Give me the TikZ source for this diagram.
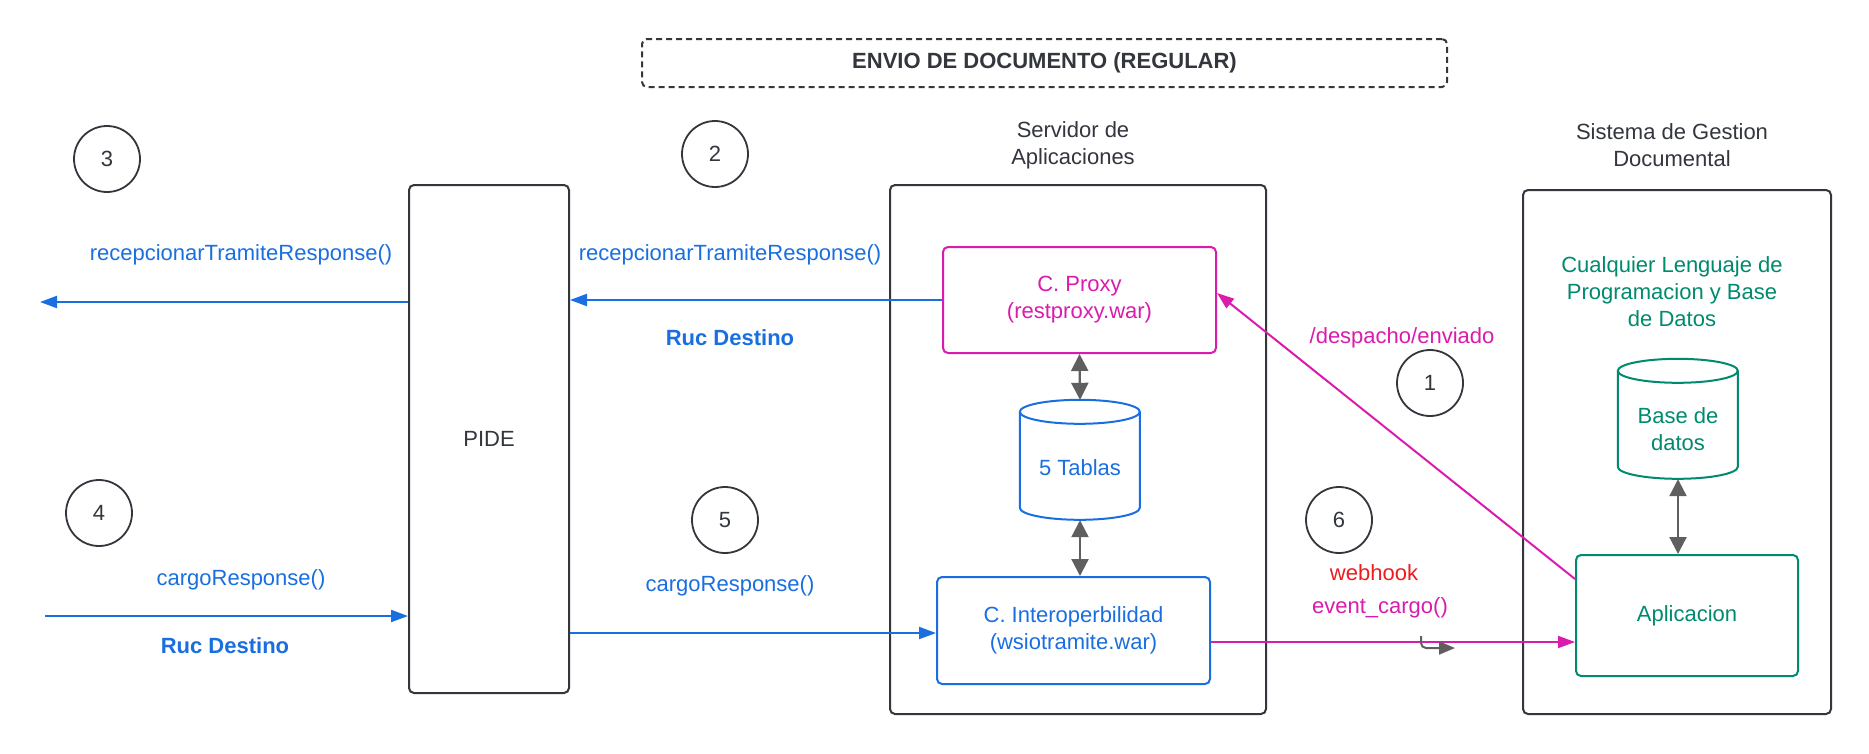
\documentclass[tikz,border=0pt]{standalone}
\usepackage{fontspec}
\setmainfont{Liberation Sans}
\usetikzlibrary{arrows.meta}
\definecolor{cblue}{HTML}{1A6FE0}
\definecolor{cmag}{HTML}{DA1CAC}
\definecolor{cgreen}{HTML}{008A6E}
\definecolor{cred}{HTML}{EE1C1C}
\definecolor{cdark}{HTML}{33363D}
\definecolor{cgray}{HTML}{5F5F5F}
\begin{document}
\begin{tikzpicture}[x=1pt,y=-1pt,font=\fontsize{22}{27}\selectfont,
  box/.style={draw=cdark,line width=2pt,rounded corners=5pt,inner sep=0pt,align=center},
  numc/.style={draw=cdark,circle,line width=1.8pt,minimum size=66pt,inner sep=0pt,text=cdark},
  lbl/.style={align=center,inner sep=0pt},
  barrow/.style={draw=cblue,line width=2pt,-{Triangle[length=17pt,width=12pt]}},
  marrow/.style={draw=cmag,line width=2pt,-{Triangle[length=17pt,width=12pt]}},
  garrow/.style={draw=cgray,line width=2.2pt,{Triangle[length=17pt,width=17pt]}-{Triangle[length=17pt,width=17pt]}},
  cyl/.style={inner sep=0pt,minimum width=120pt,minimum height=120pt}]
\fill[white] (0,0) rectangle (1869,753);
\useasboundingbox (0,0) rectangle (1869,753);

% title
\node[box,dashed,dash pattern=on 6pt off 4pt,minimum width=805pt,minimum height=48pt,font=\fontsize{22}{27}\selectfont\bfseries,text=cdark] (title) at (1044.5,63) {ENVIO DE DOCUMENTO (REGULAR)};

% containers
\node[box,minimum width=160pt,minimum height=508pt,text=cdark] (pide) at (489,439) {PIDE};
\node[box,minimum width=376pt,minimum height=529pt] (serv) at (1078,449.5) {};
\node[box,minimum width=308pt,minimum height=524pt] (sgd) at (1677,452) {};
\node[lbl,text=cdark] (servlbl) at (1073,145) {Servidor de\\Aplicaciones};
\node[lbl,text=cdark] (sgdlbl) at (1672,145) {Sistema de Gestion\\Documental};

% inner boxes
\node[box,draw=cmag,text=cmag,minimum width=273pt,minimum height=106pt] (proxy) at (1079.5,300) {C. Proxy\\(restproxy.war)};
\node[box,draw=cblue,text=cblue,minimum width=273pt,minimum height=107pt] (interop) at (1073.5,630.5) {C. Interoperbilidad\\(wsiotramite.war)};
\node[box,draw=cgreen,text=cgreen,minimum width=222pt,minimum height=121pt] (aplic) at (1687,615.5) {Aplicacion};
\node[lbl,text=cgreen] (cual) at (1672,292) {Cualquier Lenguaje de\\Programacion y Base\\de Datos};

% cylinders
\node[cyl,label={[lbl,text=cblue,yshift=-8pt]center:5 Tablas}] (tablas) at (1080,460) {};
\draw[cblue,line width=2pt] (tablas.north west) ++(0,12) coordinate (ttl) -- ++(0,96)
  arc[start angle=180,end angle=360,x radius=60pt,y radius=12pt] -- ++(0,-96)
  arc[start angle=0,end angle=180,x radius=60pt,y radius=12pt] -- cycle;
\draw[cblue,line width=2pt] (ttl) arc[start angle=180,end angle=360,x radius=60pt,y radius=12pt];

\node[cyl,label={[lbl,text=cgreen,yshift=-10pt]center:Base de\\datos}] (bd) at (1678,419) {};
\draw[cgreen,line width=2pt] (bd.north west) ++(0,12) coordinate (btl) -- ++(0,96)
  arc[start angle=180,end angle=360,x radius=60pt,y radius=12pt] -- ++(0,-96)
  arc[start angle=0,end angle=180,x radius=60pt,y radius=12pt] -- cycle;
\draw[cgreen,line width=2pt] (btl) arc[start angle=180,end angle=360,x radius=60pt,y radius=12pt];

% number circles
\node[numc] (n3) at (107,159) {3};
\node[numc] (n2) at (715,154) {2};
\node[numc] (n1) at (1430,383) {1};
\node[numc] (n4) at (99,513) {4};
\node[numc] (n5) at (725,520) {5};
\node[numc] (n6) at (1339,520) {6};

% gray double arrows
\draw[garrow] (proxy.south) -- (tablas.north);
\draw[garrow] (tablas.south) -- (tablas.south |- interop.north);
\draw[garrow] (bd.south) -- (bd.south |- aplic.north);

% blue arrows
\coordinate (a3end) at (40,302);
\draw[barrow] (pide.west |- a3end) -- (a3end);
\node[lbl,text=cblue] (l3) at (241,255) {recepcionarTramiteResponse()};

\draw[barrow] (proxy.west) -- (proxy.west -| pide.east);
\node[lbl,text=cblue] (l2) at (730,255) {recepcionarTramiteResponse()};
\node[lbl,text=cblue,font=\fontsize{22}{27}\selectfont\bfseries] (r2) at (730,338) {Ruc Destino};

\coordinate (a4s) at (45,616);
\draw[barrow] (a4s) -- (a4s -| pide.west);
\node[lbl,text=cblue] (l4) at (241,580) {cargoResponse()};
\node[lbl,text=cblue,font=\fontsize{22}{27}\selectfont\bfseries] (r4) at (225,646) {Ruc Destino};

\draw[barrow] ([yshift=-2.5pt]interop.west -| pide.east) -- ([yshift=-2.5pt]interop.west);
\node[lbl,text=cblue] (l5) at (730,586) {cargoResponse()};

% magenta arrows
\draw[marrow] ([yshift=-11.5pt]interop.east) -- ([yshift=-11.5pt]interop.east -| aplic.west);
\node[lbl,text=cred] (wh) at (1374,573) {webhook};
\node[lbl,text=cmag] (ev) at (1380,608) {event\_cargo()};
\draw[draw=cgray,line width=2pt,rounded corners=5pt,-{Triangle[length=16pt,width=13pt]}] (1421,636) |- (1455,648);

\draw[marrow] ([yshift=-25pt]aplic.north west) -- ([yshift=7pt]proxy.east);
\node[lbl,text=cmag] (desp) at (1402,338) {/despacho/enviado};
\end{tikzpicture}
\end{document}
